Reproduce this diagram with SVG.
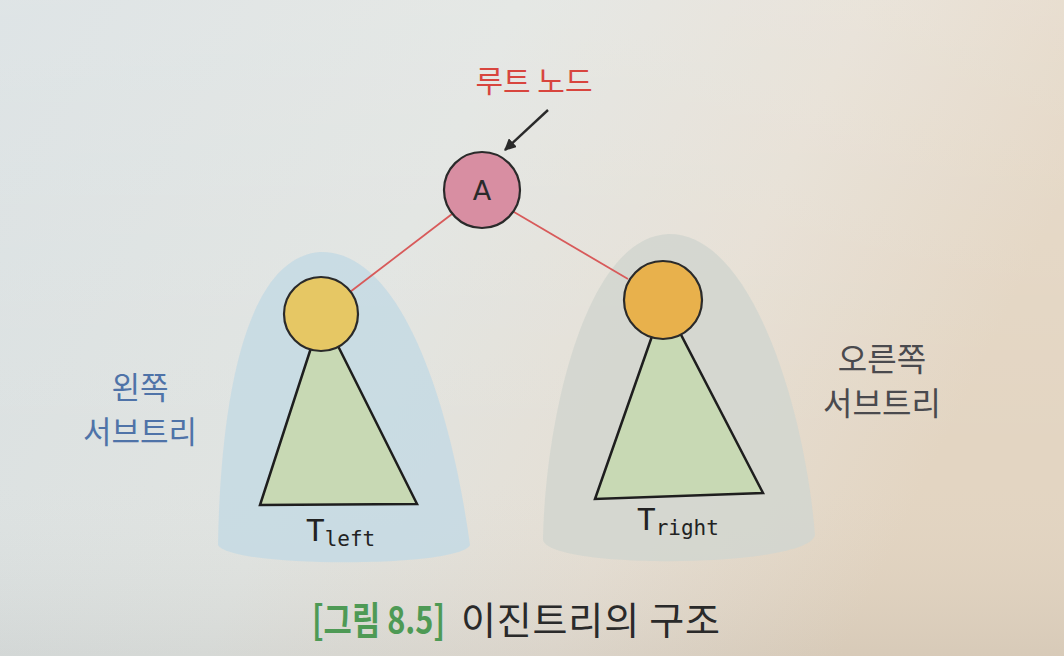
<svg xmlns="http://www.w3.org/2000/svg" width="1064" height="656" viewBox="0 0 1064 656">
<defs>
<linearGradient id="bg" x1="0" y1="0" x2="1" y2="0.3">
<stop offset="0" stop-color="#d9e0e2"/>
<stop offset="0.45" stop-color="#e1e4e1"/>
<stop offset="0.75" stop-color="#e6dfd4"/>
<stop offset="1" stop-color="#e3d5c2"/>
</linearGradient>
<linearGradient id="bgv" x1="0" y1="0" x2="0" y2="1">
<stop offset="0" stop-color="#ffffff" stop-opacity="0.15"/>
<stop offset="0.7" stop-color="#ffffff" stop-opacity="0"/>
<stop offset="1" stop-color="#000000" stop-opacity="0.05"/>
</linearGradient>
<marker id="ah" viewBox="0 0 10 10" refX="9" refY="5" markerWidth="5" markerHeight="5" orient="auto">
<path d="M0,0 L10,5 L0,10 z" fill="#2a2a2a"/>
</marker>
<style>
.node{stroke:#2a2a2a;stroke-width:2.2}
.tri{fill:#c8d9b4;stroke:#1e1e1e;stroke-width:2.5}
.edge{stroke:#d85a5a;stroke-width:1.8;fill:none}
.kr{font-family:"Noto Sans CJK KR","Noto Sans",sans-serif}
.mono{font-family:"DejaVu Sans Mono","Liberation Mono",monospace;fill:#222}
</style>
</defs>
<rect width="1064" height="656" fill="url(#bg)"/>
<rect width="1064" height="656" fill="url(#bgv)"/>

<g id="left-subtree-area">
<path d="M218,545 C220,420 240,258 320,252 C400,250 450,400 470,545 C460,568 230,568 218,545 Z" fill="#c6dae3" opacity="0.9"/>
</g>
<g id="right-subtree-area">
<path d="M543,540 C545,420 585,238 668,234 C752,232 805,410 815,535 C808,568 550,570 543,540 Z" fill="#d3d6cf" opacity="0.9"/>
</g>

<g id="connectors">
<line class="edge" x1="452" y1="214" x2="350" y2="292"/>
<line class="edge" x1="514" y1="212" x2="628" y2="279"/>
<line x1="548" y1="110" x2="505" y2="150" stroke="#2a2a2a" stroke-width="2.4" marker-end="url(#ah)"/>
</g>

<g id="root-label">
<text class="kr" x="534" y="92" font-size="30" fill="#d8453e" text-anchor="middle">루트 노드</text>
</g>

<g id="root">
<circle class="node" cx="482" cy="190" r="38" fill="#d88ea2"/>
<text x="482" y="200" font-family="DejaVu Sans, sans-serif" font-size="27" fill="#2a2a2a" text-anchor="middle">A</text>
</g>

<g id="left-subtree">
<polygon class="tri" points="322,314 260,505 417,504"/>
<circle class="node" cx="321" cy="314" r="37" fill="#e6c764"/>
<text class="mono" x="306" y="541" font-size="31">T<tspan font-size="21" dy="5">left</tspan></text>
</g>

<g id="right-subtree">
<polygon class="tri" points="664,302 595,499 763,493"/>
<circle class="node" cx="663" cy="300" r="39" fill="#e8b14c"/>
<text class="mono" x="637" y="530" font-size="31">T<tspan font-size="21" dy="5">right</tspan></text>
</g>

<g id="left-label">
<text class="kr" x="140" y="399" font-size="31" fill="#4f73a8" text-anchor="middle">왼쪽</text>
<text class="kr" x="140" y="443" font-size="31" fill="#4f73a8" text-anchor="middle">서브트리</text>
</g>

<g id="right-label">
<text class="kr" x="882" y="371" font-size="32" fill="#4a4a4e" text-anchor="middle">오른쪽</text>
<text class="kr" x="882" y="415" font-size="32" fill="#4a4a4e" text-anchor="middle">서브트리</text>
</g>

<g id="caption">
<text class="kr" x="312" y="634" font-size="38" font-weight="bold" fill="#4e9a55" textLength="133" lengthAdjust="spacingAndGlyphs">[그림 8.5]</text>
<text class="kr" x="461" y="634" font-size="38" fill="#2a2a2a" textLength="259" lengthAdjust="spacing">이진트리의 구조</text>
</g>
</svg>
